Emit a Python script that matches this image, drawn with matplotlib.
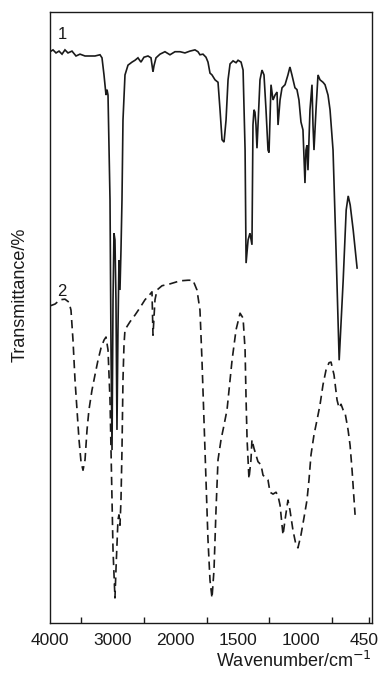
import numpy as np
import matplotlib
matplotlib.use("Agg")
import matplotlib.pyplot as plt
from matplotlib.transforms import ScaledTranslation

plt.rcParams['font.family'] = ['Liberation Sans', 'DejaVu Sans']

# Curve 1 (solid)
wn1 = [4000, 3952, 3904, 3856, 3808, 3761, 3713, 3649, 3585, 3521, 3441, 3362, 3282, 3202, 3170, 3138,
       3106, 3090, 3074, 3042, 3026, 3010, 2994, 2979, 2963, 2947, 2931, 2915, 2899, 2883, 2867, 2851,
       2835, 2803, 2755, 2691, 2643, 2596, 2548, 2500, 2436, 2388, 2356, 2340, 2308, 2244, 2165, 2085,
       2005, 1962, 1923, 1883, 1843, 1819, 1803, 1779, 1755, 1739, 1723, 1707, 1683, 1659, 1643, 1627,
       1611, 1595, 1579, 1563, 1539, 1515, 1499, 1475, 1459, 1443, 1435, 1419, 1404, 1388, 1380, 1372,
       1364, 1356, 1348, 1340, 1324, 1308, 1292, 1276, 1260, 1252, 1244, 1236, 1220, 1204, 1188, 1180,
       1164, 1148, 1124, 1101, 1085, 1069, 1045, 1029, 1013, 997, 981, 965, 957, 949, 941, 925, 909,
       901, 893, 877, 861, 845, 821, 805, 781, 765, 741, 717, 692, 660, 636, 620, 604, 580, 549]
t1 = [93.5, 93.8, 93.3, 93.6, 93.1, 93.8, 93.3, 93.6, 92.8, 93.1, 92.8, 92.8, 92.8, 93.0, 92.5, 89.7,
      86.4, 87.3, 86.4, 69.2, 44.7, 28.3, 52.9, 63.8, 62.7, 52.9, 31.6, 48.0, 59.4, 54.5, 61.0, 69.2,
      82.3, 89.7, 91.3, 91.8, 92.1, 92.5, 91.8, 92.6, 92.8, 92.5, 90.2, 91.2, 92.5, 93.1, 93.5, 93.0,
      93.5, 93.5, 93.3, 93.6, 93.8, 93.5, 93.0, 93.1, 92.6, 91.8, 90.0, 89.7, 88.9, 88.5, 84.0, 79.1,
      78.7, 82.3, 88.9, 91.5, 92.0, 91.7, 92.1, 91.8, 90.5, 77.4, 58.9, 62.7, 63.8, 61.9, 81.5, 84.0,
      83.6, 81.5, 77.7, 81.5, 88.9, 90.5, 89.7, 84.0, 77.4, 77.0, 82.3, 88.1, 85.6, 86.4, 86.9, 81.5,
      85.6, 87.6, 88.1, 89.7, 91.0, 89.7, 87.6, 87.3, 85.6, 82.0, 80.7, 72.0, 77.4, 78.2, 74.1, 84.0, 88.1,
      81.5, 77.4, 84.0, 89.7, 88.9, 88.5, 88.1, 86.4, 84.0, 77.4, 61.0, 43.0, 56.1, 67.6, 69.9, 68.4, 64.3, 58.1]

# Curve 2 (dashed)
wn2 = [4000, 3920, 3840, 3761, 3697, 3665, 3633, 3601, 3569, 3537, 3505, 3473, 3441, 3409, 3378, 3330,
       3282, 3234, 3186, 3138, 3106, 3074, 3042, 3026, 3010, 2994, 2963, 2947, 2931, 2915, 2899, 2883,
       2867, 2851, 2835, 2819, 2803, 2723, 2643, 2564, 2484, 2404, 2372, 2356, 2324, 2292, 2212, 2085,
       1962, 1899, 1859, 1827, 1803, 1787, 1771, 1755, 1739, 1723, 1707, 1691, 1675, 1659, 1635, 1611,
       1587, 1547, 1515, 1483, 1459, 1443, 1435, 1427, 1412, 1396, 1388, 1372, 1356, 1340, 1316, 1300,
       1276, 1260, 1244, 1220, 1196, 1180, 1164, 1148, 1140, 1124, 1101, 1085, 1061, 1037, 1021, 997,
       973, 949, 933, 917, 893, 869, 845, 821, 797, 773, 757, 733, 709, 693, 677, 661, 645, 621, 605,
       589, 573, 565]
t2 = [51.9, 52.2, 52.9, 53.0, 52.5, 51.2, 46.3, 39.8, 34.9, 30.0, 26.4, 25.0, 26.7, 31.6, 34.9, 38.1,
      40.6, 43.0, 45.0, 46.3, 46.8, 44.7, 36.5, 28.3, 20.1, 11.9, 4.1, 8.7, 12.8, 16.9, 17.7, 16.0,
      20.1, 28.3, 39.8, 45.5, 48.0, 49.3, 50.4, 51.6, 52.9, 53.8, 54.2, 47.1, 52.9, 54.5, 55.2, 55.5,
      56.0, 56.1, 56.1, 54.5, 51.2, 43.0, 33.2, 23.4, 13.6, 7.0, 4.1, 8.7, 18.5, 26.7, 30.0, 32.4,
      34.9, 43.0, 48.0, 50.7, 49.9, 44.7, 36.5, 30.0, 23.6, 26.7, 30.0, 28.6, 27.5, 26.4, 25.9, 24.2,
      23.7, 23.4, 21.4, 21.1, 21.4, 20.8, 19.3, 16.0, 14.4, 16.9, 20.1, 18.5, 15.2, 12.8, 12.3, 14.4,
      17.2, 20.1, 23.4, 27.5, 30.8, 33.2, 35.7, 39.0, 41.4, 42.6, 42.7, 40.6, 36.5, 35.2, 35.8, 34.9, 34.4, 31.6, 29.1,
      25.0, 20.1, 17.7]

label_ticks = [4000, 3000, 2000, 1500, 1000, 450]
minor_ticks = [3500, 2500, 1750, 1250, 750, 450]


def fwd(x):
    x = np.asarray(x, dtype=float)
    return np.where(x >= 2000, x, 2 * x - 2000)


def inv(u):
    u = np.asarray(u, dtype=float)
    return np.where(u >= 2000, u, (u + 2000) / 2)


fig = plt.figure(figsize=(3.82, 6.77), dpi=100)
ax = fig.add_axes([50 / 382, 54 / 677, 322 / 382, 611 / 677])
ax.set_xscale('function', functions=(fwd, inv))

ink = '#1a1a1a'
ax.plot(wn1, t1, color=ink, lw=1.2, solid_joinstyle='miter')
ax.plot(wn2, t2, color=ink, lw=1.2, linestyle=(0, (5, 3)))

ax.set_xlim(4000, 430)
ax.set_ylim(0, 100)

ax.set_xticks(label_ticks)
ax.set_xticklabels([str(v) for v in label_ticks])
ax.set_xticks(minor_ticks, minor=True)
ax.xaxis.remove_overlapping_locs = False
ax.tick_params(axis='x', which='major', length=0, pad=7, labelsize=12.5, labelcolor=ink)
ax.tick_params(axis='x', which='minor', direction='in', length=4, width=1.0, color=ink)
ax.set_yticks([])

# shift the last label slightly left so it stays inside the figure
last = ax.get_xticklabels()[-1]
last.set_transform(last.get_transform() + ScaledTranslation(-5 / 100, 0, fig.dpi_scale_trans))

for s in ax.spines.values():
    s.set_linewidth(1.0)
    s.set_color(ink)

ax.text(3810, 96.3, '1', fontsize=12, color=ink, ha='center', va='center')
ax.text(3810, 54.3, '2', fontsize=12, color=ink, ha='center', va='center')

ax.set_xlabel('Wavenumber/cm$^{-1}$', loc='right', fontsize=13, color=ink, labelpad=2)
fig.text(20 / 382, 1 - 295 / 677, 'Transmittance/%', rotation=90, fontsize=13,
         color=ink, ha='center', va='center')

fig.savefig('out.png', dpi=100)
